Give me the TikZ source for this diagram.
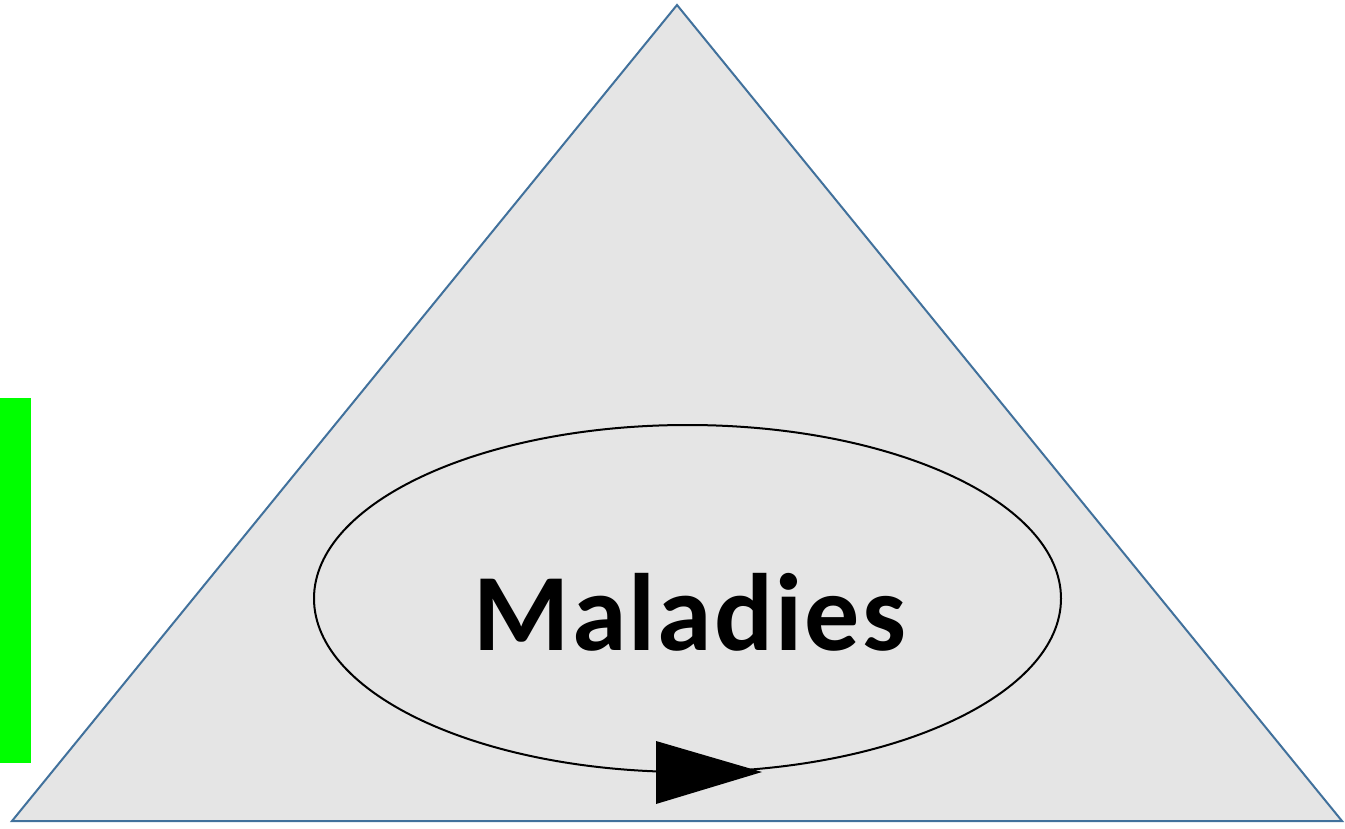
\documentclass[tikz,border=0pt]{standalone}
\usepackage{fontspec}
\setmainfont{Carlito}
\usetikzlibrary{shapes.geometric}
\definecolor{tri}{HTML}{41719C}
\definecolor{trifill}{HTML}{E5E5E5}
\definecolor{greenbar}{HTML}{00FF00}
\begin{document}
\begin{tikzpicture}[x=1pt,y=-1pt]
\useasboundingbox (0,0) rectangle (1345,829);
\fill[greenbar] (0,398) rectangle (31,763);
\draw[tri, fill=trifill, line width=2pt, line join=miter] (677,5) -- (1342,821) -- (12,821) -- cycle;
\draw[black, line width=2pt] (687.5,598.5) ellipse [x radius=373.5, y radius=173.5];
\fill[black] (656,741) -- (762,772) -- (656,804) -- cycle;
\node (label) at (690,612) {\fontsize{110}{120}\selectfont\bfseries\addfontfeature{LetterSpace=2}Maladies};
\end{tikzpicture}
\end{document}
